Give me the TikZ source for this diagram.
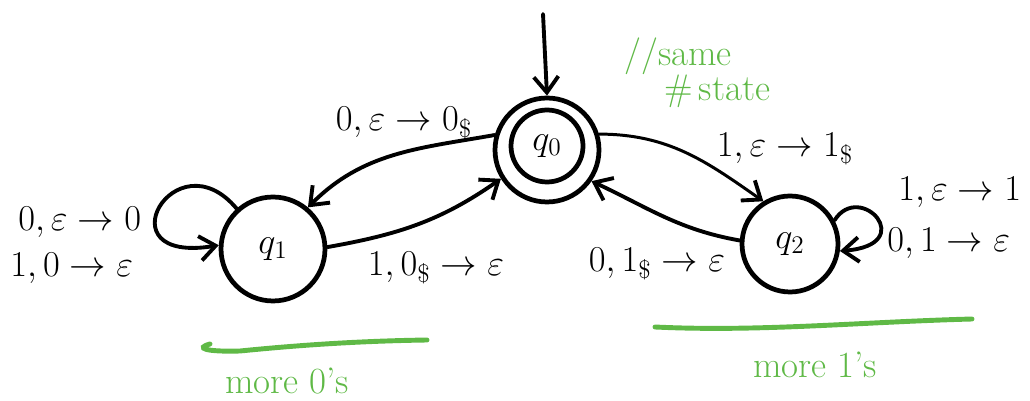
\documentclass[tikz,border=0pt]{standalone}
\usetikzlibrary{arrows.meta}
\definecolor{hgreen}{RGB}{95,185,70}
\begin{document}
\begin{tikzpicture}[x=0.02cm,y=-0.02cm,
  state/.style={circle,draw,line width=2.7pt,inner sep=0pt},
  edge/.style={draw,line width=2.2pt,line cap=round,-{Straight Barb[length=9pt,width=14pt,line width=2.2pt]}},
  lbl/.style={font=\fontsize{21}{24}\selectfont,inner sep=0pt},
  note/.style={text=hgreen,font=\fontsize{21}{24}\selectfont,inner sep=0pt},
  gline/.style={draw=hgreen,line width=2.8pt,line cap=round}]
\useasboundingbox (0,0) rectangle (1030,401);
% states
\node[state,minimum size=2.08cm] (q0) at (547,150) {};
\node[state,minimum size=1.44cm,lbl] (q0in) at (547,146) {$q_0$};
\node[state,minimum size=2.08cm,lbl] (q1) at (273,249) {$q_1$};
\node[state,minimum size=1.92cm,lbl] (q2) at (790,244) {$q_2$};
% start arrow
\coordinate (start) at (543,14);
\draw[edge] (start) -- (q0.north);
% transitions
\draw[edge] (q0.164) to[out=190,in=45] (q1.50);
\draw[edge] (q1.2) to[out=10,in=215] (q0.212);
\draw[edge,line width=1.7pt] (q0.17) to[out=0,in=145] (q2.122);
\draw[edge] (q2.176) to[out=170,in=-25] (q0.-35);
\draw[edge] (q1.132) .. controls (175,135) and (100,265) .. (q1.176);
\draw[edge] (q2.28) .. controls (860,180) and (920,245) .. (q2.-8);
% labels
\node[lbl] (l01) at (404,123) {$0,\varepsilon\to 0_{\$}$};
\node[lbl] (l10) at (436,268) {$1,0_{\$}\to\varepsilon$};
\node[lbl] (l02) at (785,149) {$1,\varepsilon\to 1_{\$}$};
\node[lbl] (l20) at (657,264) {$0,1_{\$}\to\varepsilon$};
\node[lbl,anchor=west] (l11a) at (18,222) {$0,\varepsilon\to 0$};
\node[lbl,anchor=west] (l11b) at (10,268) {$1,0\to\varepsilon$};
\node[lbl,anchor=west] (l22a) at (898,192) {$1,\varepsilon\to 1$};
\node[lbl,anchor=west] (l22b) at (887,243) {$0,1\to\varepsilon$};
% green notes
\node[note,anchor=west] (same) at (624,56) {//same};
\node[note,anchor=west] (state) at (664,91) {\#\,state};
\draw[gline] (210,344) .. controls (195,348) and (205,352) .. (240,351)
  .. controls (300,345) and (360,341) .. (427,340);
\draw[gline] (655,327) .. controls (760,332) and (860,322) .. (972,319);
\node[note] (more0) at (287,381) {more 0's};
\node[note] (more1) at (815,365) {more 1's};
\end{tikzpicture}
\end{document}
